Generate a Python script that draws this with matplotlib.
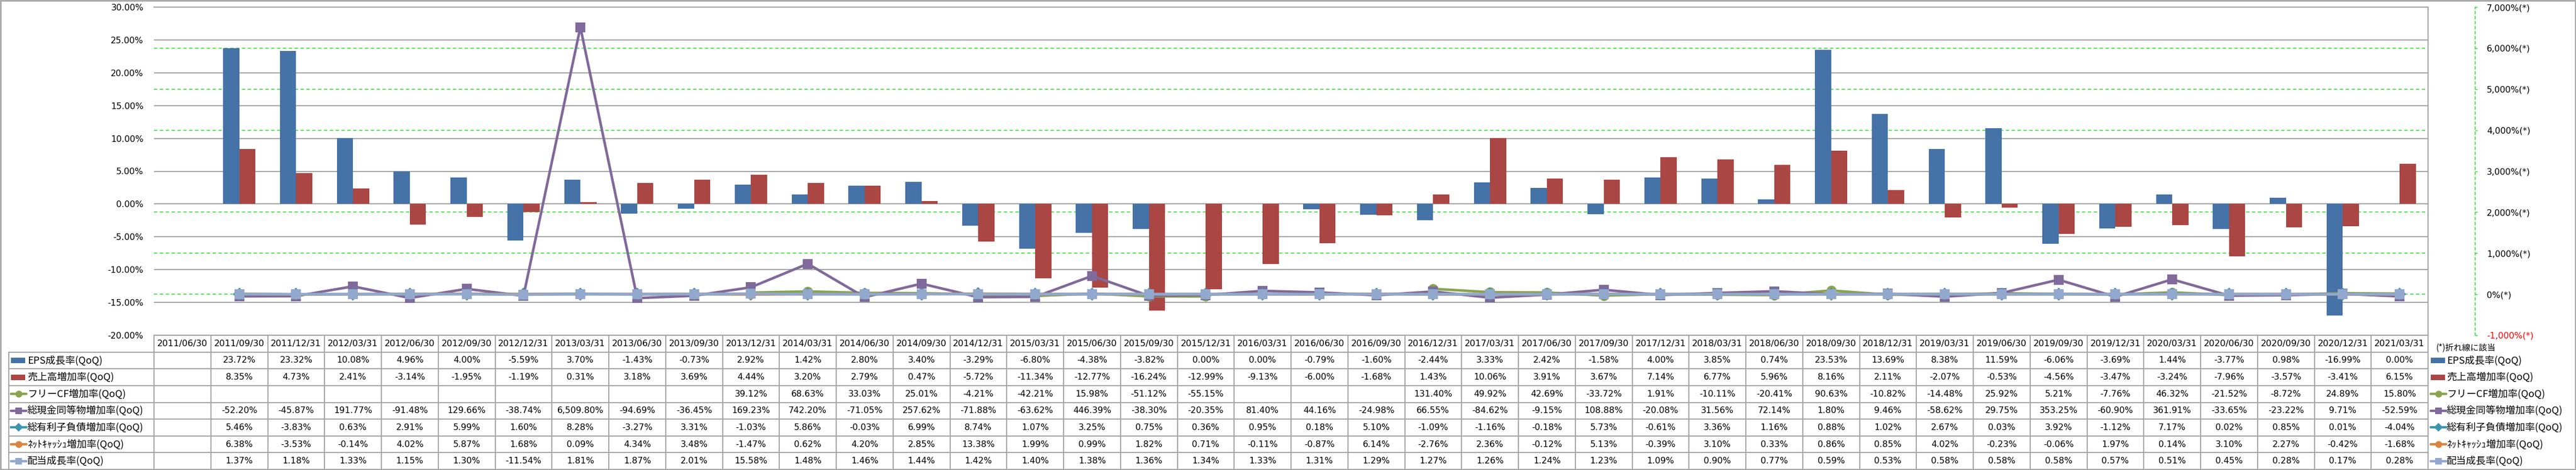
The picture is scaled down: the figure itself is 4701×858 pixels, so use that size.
import numpy as np
import matplotlib
matplotlib.use('Agg')
import matplotlib.pyplot as plt
import matplotlib.transforms as mtransforms
from matplotlib.patches import Rectangle
from matplotlib.lines import Line2D
from matplotlib.ticker import FixedLocator, FuncFormatter

plt.rcParams['font.family'] = ['DejaVu Sans', 'Noto Sans CJK JP']

nan = np.nan
dates = ['2011/06/30', '2011/09/30', '2011/12/31', '2012/03/31', '2012/06/30', '2012/09/30', '2012/12/31',
         '2013/03/31', '2013/06/30', '2013/09/30', '2013/12/31', '2014/03/31', '2014/06/30', '2014/09/30',
         '2014/12/31', '2015/03/31', '2015/06/30', '2015/09/30', '2015/12/31', '2016/03/31', '2016/06/30',
         '2016/09/30', '2016/12/31', '2017/03/31', '2017/06/30', '2017/09/30', '2017/12/31', '2018/03/31',
         '2018/06/30', '2018/09/30', '2018/12/31', '2019/03/31', '2019/06/30', '2019/09/30', '2019/12/31',
         '2020/03/31', '2020/06/30', '2020/09/30', '2020/12/31', '2021/03/31']

eps_growth = [nan, 23.72, 23.32, 10.08, 4.96, 4.00, -5.59, 3.70, -1.43, -0.73, 2.92, 1.42, 2.80, 3.40, -3.29,
              -6.80, -4.38, -3.82, 0.00, 0.00, -0.79, -1.60, -2.44, 3.33, 2.42, -1.58, 4.00, 3.85, 0.74, 23.53,
              13.69, 8.38, 11.59, -6.06, -3.69, 1.44, -3.77, 0.98, -16.99, 0.00]
sales_growth = [nan, 8.35, 4.73, 2.41, -3.14, -1.95, -1.19, 0.31, 3.18, 3.69, 4.44, 3.20, 2.79, 0.47, -5.72,
                -11.34, -12.77, -16.24, -12.99, -9.13, -6.00, -1.68, 1.43, 10.06, 3.91, 3.67, 7.14, 6.77, 5.96,
                8.16, 2.11, -2.07, -0.53, -4.56, -3.47, -3.24, -7.96, -3.57, -3.41, 6.15]
fcf_growth = [nan, nan, nan, nan, nan, nan, nan, nan, nan, nan, 39.12, 68.63, 33.03, 25.01, -4.21, -42.21,
              15.98, -51.12, -55.15, nan, nan, nan, 131.40, 49.92, 42.69, -33.72, 1.91, -10.11, -20.41, 90.63,
              -10.82, -14.48, 25.92, 5.21, -7.76, 46.32, -21.52, -8.72, 24.89, 15.80]
cash_growth = [nan, -52.20, -45.87, 191.77, -91.48, 129.66, -38.74, 6509.80, -94.69, -36.45, 169.23, 742.20,
               -71.05, 257.62, -71.88, -63.62, 446.39, -38.30, -20.35, 81.40, 44.16, -24.98, 66.55, -84.62,
               -9.15, 108.88, -20.08, 31.56, 72.14, 1.80, 9.46, -58.62, 29.75, 353.25, -60.90, 361.91, -33.65,
               -23.22, 9.71, -52.59]
debt_growth = [nan, 5.46, -3.83, 0.63, 2.91, 5.99, 1.60, 8.28, -3.27, 3.31, -1.03, 5.86, -0.03, 6.99, 8.74,
               1.07, 3.25, 0.75, 0.36, 0.95, 0.18, 5.10, -1.09, -1.16, -0.18, 5.73, -0.61, 3.36, 1.16, 0.88,
               1.02, 2.67, 0.03, 3.92, -1.12, 7.17, 0.02, 0.85, 0.01, -4.04]
netcash_growth = [nan, 6.38, -3.53, -0.14, 4.02, 5.87, 1.68, 0.09, 4.34, 3.48, -1.47, 0.62, 4.20, 2.85, 13.38,
                  1.99, 0.99, 1.82, 0.71, -0.11, -0.87, 6.14, -2.76, 2.36, -0.12, 5.13, -0.39, 3.10, 0.33, 0.86,
                  0.85, 4.02, -0.23, -0.06, 1.97, 0.14, 3.10, 2.27, -0.42, -1.68]
div_growth = [nan, 1.37, 1.18, 1.33, 1.15, 1.30, -11.54, 1.81, 1.87, 2.01, 15.58, 1.48, 1.46, 1.44, 1.42,
              1.40, 1.38, 1.36, 1.34, 1.33, 1.31, 1.29, 1.27, 1.26, 1.24, 1.23, 1.09, 0.90, 0.77, 0.59, 0.53,
              0.58, 0.58, 0.58, 0.57, 0.51, 0.45, 0.28, 0.17, 0.28]

series_names = ['EPS成長率(QoQ)', '売上高増加率(QoQ)', 'フリーCF増加率(QoQ)', '総現金同等物増加率(QoQ)',
                '総有利子負債増加率(QoQ)', 'ﾈｯﾄｷｬｯｼｭ増加率(QoQ)', '配当成長率(QoQ)']
series_values = [eps_growth, sales_growth, fcf_growth, cash_growth, debt_growth, netcash_growth, div_growth]
series_colors = ['#4572A7', '#AA4643', '#89A54E', '#80699B', '#3D96AE', '#DB843D', '#92A8CD']
line_markers = ['o', 's', 'D', 'o', 's']

primary_ticks = list(range(-20, 31, 5))
secondary_ticks = list(range(-1000, 7001, 1000))
note_text = '(*)折れ線に該当'

# ---------------- layout (pixels) ----------------
W, H = 4701, 858
PL, PR, PT, PB = 281, 4431, 13, 612
TB = 857
LX = 16
rh = (TB - PB) / 8.0
GRID = '#A6A6A6'
GREEN = '#22DD22'

fig = plt.figure(figsize=(W / 100, H / 100), dpi=100)
fig.patch.set_facecolor('white')
rect = [PL / W, 1 - PB / H, (PR - PL) / W, (PB - PT) / H]

n = len(dates)
x = np.arange(n)

# background axes for secondary-scale green grid
axbg = fig.add_axes(rect, zorder=0)
axbg.set_xlim(-0.5, n - 0.5)
axbg.set_ylim(-1000, 7000)
axbg.axis('off')
for v in secondary_ticks:
    axbg.axhline(v, color=GREEN, lw=1.1, ls=(0, (4, 3)), zorder=1)

ax = fig.add_axes(rect, zorder=1)
ax.patch.set_visible(False)
ax.set_xlim(-0.5, n - 0.5)
ax.set_ylim(-20, 30)
for v in primary_ticks:
    ax.axhline(v, color=GRID, lw=1.5, zorder=0.5)

bw = 0.284
ax.bar(x - bw / 2, eps_growth, bw, color=series_colors[0], zorder=2)
ax.bar(x + bw / 2, sales_growth, bw, color=series_colors[1], zorder=2)

ax.set_xticks([])
for s in ['left', 'bottom']:
    ax.spines[s].set_visible(False)
for s in ['top', 'right']:
    ax.spines[s].set_color(GRID)
    ax.spines[s].set_linewidth(1.5)
ax.yaxis.tick_right()
ax.yaxis.set_major_locator(FixedLocator(primary_ticks))
ax.yaxis.set_major_formatter(FuncFormatter(lambda v, p: f'{v:.2f}%'))
ax.tick_params(axis='y', length=0, pad=13.7, labelsize=11.3)

ax2 = ax.twinx()
ax2.set_zorder(1.5)
ax2.patch.set_visible(False)
ax2.set_xlim(-0.5, n - 0.5)
ax2.set_ylim(-1000, 7000)
for k in range(5):
    ax2.plot(x, series_values[k + 2], color=series_colors[k + 2], lw=3.4,
             marker=line_markers[k], ms=(12 if line_markers[k] == 'D' else 13),
             markeredgewidth=0, zorder=3 + k, solid_joinstyle='round')
for s in ['left', 'top', 'bottom']:
    ax2.spines[s].set_visible(False)
ax2.spines['right'].set_position(('outward', 86 * 0.72))
ax2.spines['right'].set_color(GREEN)
ax2.spines['right'].set_linestyle((0, (3, 3)))
ax2.spines['right'].set_linewidth(1.1)
ax2.yaxis.set_major_locator(FixedLocator(secondary_ticks))
ax2.yaxis.set_major_formatter(FuncFormatter(lambda v, p: f'{v:,.0f}%(*)'))
ax2.tick_params(axis='y', length=3, width=1, color=GREEN, pad=12, labelsize=11.3)
ax2.set_xticks([])

fig.canvas.draw()
for t in ax.yaxis.get_major_ticks():
    t.label2.set_color('#FF0000' if t.get_loc() < 0 else 'black')
for t in ax2.yaxis.get_major_ticks():
    t.label2.set_color('#FF0000' if t.get_loc() < 0 else 'black')

# ---------------- table ----------------
axt = fig.add_axes([0, 0, 1, 1], zorder=2)
axt.set_xlim(0, W)
axt.set_ylim(H, 0)
axt.axis('off')
tr = mtransforms.blended_transform_factory(ax.transData, axt.transData)

axt.plot([PL, PR], [PB, PB], color=GRID, lw=1.5)
for k in range(1, 9):
    yy = PB + k * rh
    axt.plot([LX, PR], [yy, yy], color=GRID, lw=1.5)
axt.plot([LX, LX], [PB + rh, TB], color=GRID, lw=1.5)
for i in range(n + 1):
    axt.plot([i - 0.5, i - 0.5], [PB, TB], color=GRID, lw=1.5, transform=tr)

for i, d in enumerate(dates):
    axt.text(i, PB + rh / 2, d, transform=tr, ha='center', va='center', fontsize=11.5,
             family='DejaVu Sans', color='black')

for k, vals in enumerate(series_values):
    yc = PB + rh * (k + 1.5)
    for i, v in enumerate(vals):
        if not np.isnan(v):
            axt.text(i, yc, f'{v:,.2f}%', transform=tr, ha='center', va='center', fontsize=11.3,
                     family='DejaVu Sans', color='black')


def draw_key(x0, yc, k):
    c = series_colors[k]
    if k < 2:
        axt.add_patch(Rectangle((x0, yc - 5), 26, 10, facecolor=c, edgecolor='none'))
    else:
        axt.add_line(Line2D([x0, x0 + 28], [yc, yc], color=c, lw=3.2, solid_capstyle='round'))
        axt.add_line(Line2D([x0 + 14], [yc], color=c, marker=line_markers[k - 2],
                            ms=(8 if line_markers[k - 2] == 'D' else 9), markeredgewidth=0))


for k, name in enumerate(series_names):
    yc = PB + rh * (k + 1.5)
    draw_key(20, yc, k)
    axt.text(50, yc, name, ha='left', va='center', fontsize=13, family=['Noto Sans CJK JP', 'DejaVu Sans'],
             color='black')
    draw_key(4436, yc, k)
    axt.text(4465, yc, name, ha='left', va='center', fontsize=13, family=['Noto Sans CJK JP', 'DejaVu Sans'],
             color='black')

axt.text(4446, PB + rh * 0.75, note_text, ha='left', va='center', fontsize=11,
         family=['Noto Sans CJK JP', 'DejaVu Sans'], color='black')

# outer border
fig.patches.append(Rectangle((1, 1), W - 2, H - 2, transform=axt.transData, fill=False,
                             edgecolor=GRID, lw=2, zorder=10))

fig.savefig('out.png', dpi=100)
